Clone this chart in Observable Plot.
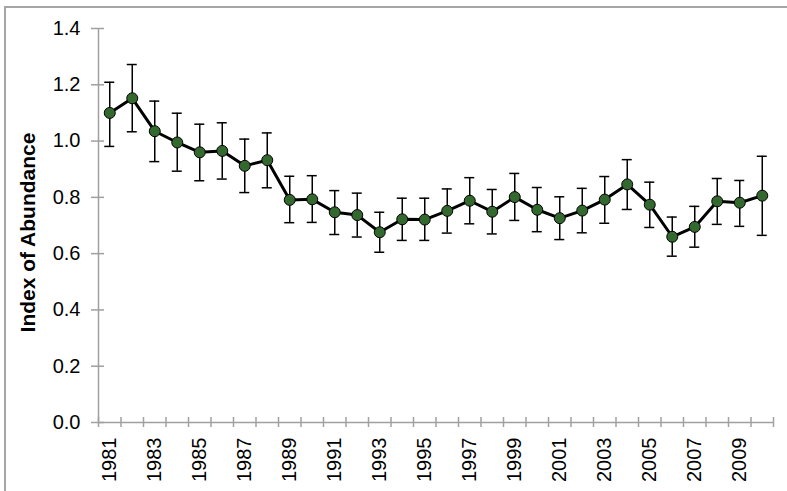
<!DOCTYPE html>
<html>
<head>
<meta charset="utf-8">
<script src="https://cdn.jsdelivr.net/npm/d3@7"></script>
<script src="https://cdn.jsdelivr.net/npm/@observablehq/plot@0.6"></script>
<style>
  html, body { margin: 0; padding: 0; background: #fff; }
  #wrap { position: relative; width: 787px; height: 491px; overflow: hidden; }
  #border { position: absolute; left: 4px; top: 6px; width: 800px; height: 500px;
            border-left: 2px solid #a6a6a6; border-top: 2px solid #a6a6a6; pointer-events: none; }
  svg { font-family: "Liberation Sans", Arial, sans-serif; }
</style>
</head>
<body>
<div id="wrap"><div id="border"></div></div>
<script>
const years = [1981,1982,1983,1984,1985,1986,1987,1988,1989,1990,1991,1992,1993,1994,1995,
               1996,1997,1998,1999,2000,2001,2002,2003,2004,2005,2006,2007,2008,2009,2010];
const indexValues = [1.100,1.152,1.035,0.995,0.960,0.965,0.912,0.932,0.791,0.793,0.747,0.737,0.676,0.722,0.721,
                     0.752,0.788,0.749,0.801,0.756,0.726,0.753,0.792,0.846,0.774,0.660,0.695,0.786,0.781,0.806];
const upperValues = [1.209,1.272,1.142,1.099,1.060,1.065,1.007,1.029,0.875,0.877,0.824,0.815,0.747,0.797,0.797,
                     0.830,0.870,0.828,0.885,0.835,0.802,0.832,0.874,0.934,0.854,0.730,0.768,0.867,0.860,0.946];
const lowerValues = [0.981,1.033,0.927,0.893,0.859,0.865,0.817,0.834,0.710,0.711,0.668,0.659,0.605,0.647,0.647,
                     0.673,0.706,0.670,0.718,0.678,0.650,0.674,0.708,0.757,0.693,0.591,0.623,0.704,0.697,0.665];
const yTickValues = [0, 0.2, 0.4, 0.6, 0.8, 1.0, 1.2, 1.4];
const xTickLabels = [1981,1983,1985,1987,1989,1991,1993,1995,1997,1999,2001,2003,2005,2007,2009];
const yTitle = "Index of Abundance";

const data = years.map((yr, i) => ({year: yr, value: indexValues[i], lo: lowerValues[i], hi: upperValues[i]}));
const xMin = years[0] - 0.5, xMax = years[years.length - 1] + 0.5;
const boundaries = years.map(y => y - 0.5).concat([xMax]);
const yMax = yTickValues[yTickValues.length - 1];

const axisColor = "#a0a0a0";
const dotColor = "#33692f";
const fontFamily = "'Liberation Sans', Arial, sans-serif";

const chart = Plot.plot({
  width: 787,
  height: 491,
  marginLeft: 98,
  marginRight: 14,
  marginTop: 28,
  marginBottom: 69,
  style: {fontFamily, fontSize: "20px", color: "#000", background: "transparent"},
  x: {domain: [xMin, xMax], axis: null},
  y: {domain: [0, yMax], axis: null},
  marks: [
    // tick labels
    Plot.axisX(xTickLabels, {tickFormat: d => String(d), tickRotate: -90, tickSize: 0, tickPadding: 15,
                             fontSize: 20, fill: "#000", label: null}),
    Plot.axisY(yTickValues, {tickFormat: d3.format(".1f"), tickSize: 0, tickPadding: 18,
                             fontSize: 20, fill: "#000", label: null}),
    // axis lines
    Plot.ruleX([xMin], {y1: 0, y2: yMax, stroke: axisColor, strokeWidth: 1.5}),
    Plot.ruleY([0], {x1: xMin, x2: xMax, stroke: axisColor, strokeWidth: 1.5}),
    // cross tick marks
    Plot.ruleX(boundaries, {x: d => d, y1: 0, y2: 0, insetTop: -5, insetBottom: -5, stroke: axisColor, strokeWidth: 1.5}),
    Plot.ruleY(yTickValues, {y: d => d, x1: xMin, x2: xMin, insetLeft: -7, insetRight: -6, stroke: axisColor, strokeWidth: 1.5}),
    // y title
    Plot.text([yTitle], {frameAnchor: "left", textAnchor: "middle", rotate: -90, dx: -70, dy: 7,
                         fontWeight: "bold", fontSize: 21, fill: "#000"}),
    // error bars
    Plot.ruleX(data, {x: "year", y1: "lo", y2: "hi", stroke: "#000", strokeWidth: 1.5}),
    Plot.ruleY(data, {y: "hi", x1: "year", x2: "year", insetLeft: -5, insetRight: -5, stroke: "#000", strokeWidth: 1.5}),
    Plot.ruleY(data, {y: "lo", x1: "year", x2: "year", insetLeft: -5, insetRight: -5, stroke: "#000", strokeWidth: 1.5}),
    // series
    Plot.line(data, {x: "year", y: "value", stroke: "#000", strokeWidth: 3}),
    Plot.dot(data, {x: "year", y: "value", r: 5.5, fill: dotColor, stroke: "#000", strokeWidth: 1})
  ]
});
document.getElementById("wrap").insertBefore(chart, document.getElementById("border"));
</script>
</body>
</html>
